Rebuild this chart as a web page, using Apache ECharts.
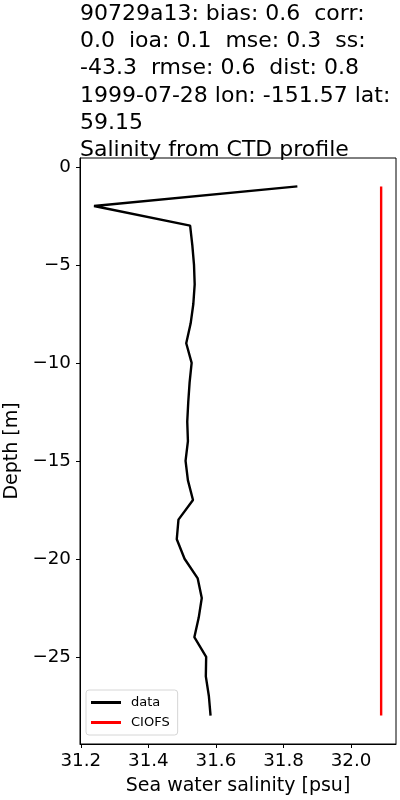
<!DOCTYPE html>
<html>
<head>
<meta charset="utf-8">
<script src="https://cdn.jsdelivr.net/npm/echarts@6/dist/echarts.min.js"></script>
<style>html,body{margin:0;padding:0;background:#fff;}#c{width:400px;height:800px;}</style>
</head>
<body>
<div id="c"></div>
<script>
const titleLines = [
  "90729a13: bias: 0.6  corr:",
  "0.0  ioa: 0.1  mse: 0.3  ss:",
  "-43.3  rmse: 0.6  dist: 0.8",
  "1999-07-28 lon: -151.57 lat:",
  "59.15",
  "Salinity from CTD profile"
];
const depths = [-1,-2,-3,-4,-5,-6,-7,-8,-9,-10,-11,-12,-13,-14,-15,-16,-17,-18,-19,-20,-21,-22,-23,-24,-25,-26,-27,-28];
const dataSalinity = [31.841,31.239,31.5235,31.530,31.535,31.537,31.533,31.525,31.512,31.528,31.522,31.518,31.515,31.517,31.510,31.517,31.532,31.489,31.484,31.507,31.546,31.558,31.549,31.536,31.571,31.570,31.579,31.584];
const ciofsSalinity = [32.089,32.089,32.089,32.089,32.089,32.089,32.089,32.089,32.089,32.089,32.089,32.089,32.089,32.089,32.089,32.089,32.089,32.089,32.089,32.089,32.089,32.089,32.089,32.089,32.089,32.089,32.089,32.089];
const xTicks = [31.2, 31.4, 31.6, 31.8, 32.0];
const yTicks = [0, -5, -10, -15, -20, -25];
const xLabel = "Sea water salinity [psu]";
const yLabel = "Depth [m]";

const FONT = "DejaVu Sans";
const chart = echarts.init(document.getElementById('c'), null, {renderer: 'canvas'});
const pairs = (xs) => xs.map((v, i) => [v, depths[i]]);
chart.setOption({
  animation: false,
  backgroundColor: '#fff',
  textStyle: {fontFamily: FONT},
  title: {
    text: titleLines.join('\n'),
    left: 80, top: 1, padding: 0,
    textStyle: {fontFamily: FONT, fontSize: 22, fontWeight: 'normal', color: '#000', lineHeight: 27.1}
  },
  grid: {left: 80, top: 158, width: 316, height: 586, show: true, borderColor: '#000', borderWidth: 1,
    backgroundColor: 'transparent', containLabel: false, outerBoundsMode: 'none'},
  legend: {
    left: 86, top: 690,
    orient: 'vertical',
    itemWidth: 30, itemHeight: 3, itemGap: 7,
    padding: [6, 8, 6, 5],
    borderColor: '#d6d6d6', borderWidth: 1, borderRadius: 3,
    backgroundColor: 'rgba(255,255,255,0.8)',
    textStyle: {fontFamily: FONT, fontSize: 13, color: '#000', padding: [0,0,0,5]},
    data: [
      {name: 'data', icon: 'rect', itemStyle: {color: '#000'}},
      {name: 'CIOFS', icon: 'rect', itemStyle: {color: '#ff0000'}}
    ]
  },
  xAxis: {
    type: 'value', min: 31.1975, max: 32.133,
    name: xLabel, nameLocation: 'middle', nameGap: 33,
    nameTextStyle: {fontFamily: FONT, fontSize: 19, color: '#000'},
    axisLine: {show: true, onZero: false, lineStyle: {color: '#000', width: 1}},
    axisTick: {show: true, customValues: xTicks, length: 4, lineStyle: {color: '#000'}},
    axisLabel: {customValues: xTicks, fontFamily: FONT, fontSize: 18.3, color: '#000', margin: 8,
      formatter: v => v.toFixed(1)},
    splitLine: {show: false}
  },
  yAxis: {
    type: 'value', min: -29.45, max: 0.45,
    name: yLabel, nameLocation: 'middle', nameGap: 56, nameRotate: 90,
    nameTextStyle: {fontFamily: FONT, fontSize: 19, color: '#000'},
    axisLine: {show: true, onZero: false, lineStyle: {color: '#000', width: 1}},
    axisTick: {show: true, customValues: yTicks, length: 4, lineStyle: {color: '#000'}},
    axisLabel: {customValues: yTicks, fontFamily: FONT, fontSize: 18.3, color: '#000', margin: 9,
      formatter: v => String(v).replace('-', '\u2212')},
    splitLine: {show: false}
  },
  series: [
    {name: 'data', type: 'line', data: pairs(dataSalinity), showSymbol: false, symbol: 'none',
      lineStyle: {color: '#000', width: 2.4}, itemStyle: {color: '#000'}},
    {name: 'CIOFS', type: 'line', data: pairs(ciofsSalinity), showSymbol: false, symbol: 'none',
      lineStyle: {color: '#ff0000', width: 2.4}, itemStyle: {color: '#ff0000'}}
  ]
});
</script>
</body>
</html>
